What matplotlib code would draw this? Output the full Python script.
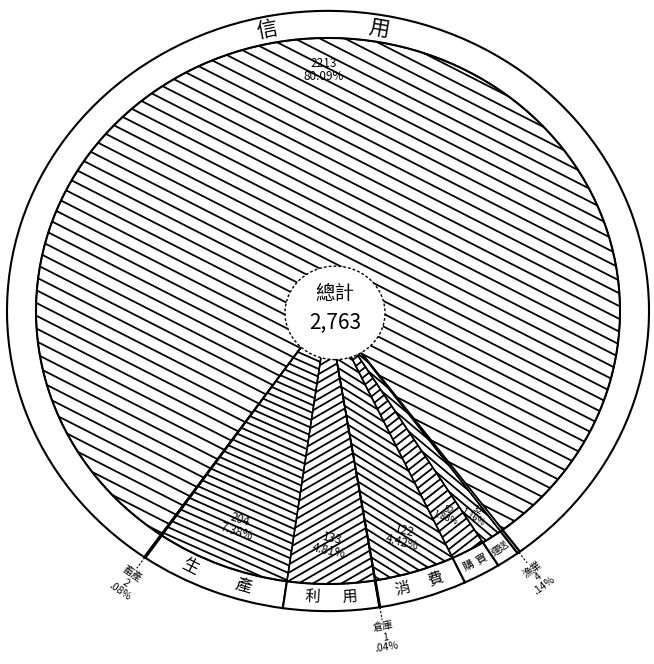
import matplotlib
matplotlib.use('Agg')
import matplotlib.pyplot as plt
import numpy as np
from matplotlib.patches import Circle
from matplotlib.collections import LineCollection

plt.rcParams['font.family'] = ['Noto Sans CJK TC', 'DejaVu Sans']

# ---- data ----
categories = ['畜產', '生產', '利用', '倉庫', '消費', '購買', '運送', '漁業', '信用']
values = [2, 204, 133, 1, 122, 52, 32, 4, 2213]
pct_labels = ['.08%', '7.38%', '4.81%', '.04%', '4.42%', '1.88%', '1.16%', '.14%', '80.09%']
center_title = '總計'
total_label = '2,763'

small_idx = [0, 3, 7]          # labelled outside the ring
ring_idx = [1, 2, 4, 5, 6, 8]  # labelled inside the ring

# ---- geometry / style ----
S = 0.935              # vertical squash of the scanned circle
R_PIE, R_OUT = 292, 321
START = 235.07

fig = plt.figure(figsize=(6.54, 6.64), dpi=100)
ax = fig.add_axes([0, 0, 1, 1])

n = len(values)
ring, _ = ax.pie(values, radius=R_OUT, startangle=START, counterclock=True,
                 colors=['white'] * n,
                 wedgeprops=dict(width=R_OUT - R_PIE, edgecolor='black', linewidth=1.5))
wedges, _ = ax.pie(values, radius=R_PIE, startangle=START, counterclock=True,
                   colors=['white'] * n,
                   wedgeprops=dict(edgecolor='black', linewidth=1.1))

ax.set_aspect('auto')
ax.set_xlim(-328, 326)
ax.set_ylim(-(664 - 311) / S, 311 / S)
ax.axis('off')

total = sum(values)
cum = np.concatenate([[0], np.cumsum(values)])
a0 = START + 360 * cum[:-1] / total
a1 = START + 360 * cum[1:] / total
mid = (a0 + a1) / 2

# ---- hatching (angle in degrees, spacing) ----
hatch = {8: (-27, 12.0), 1: (-24, 7.5), 2: (30, 7.5), 4: (-32, 7.5),
         5: (38, 7.0), 6: (-40, 7.0)}
for i, (ang, sp) in hatch.items():
    t = np.deg2rad(ang)
    d = np.array([np.cos(t), np.sin(t) / S])
    d /= np.linalg.norm(d)
    nrm = np.array([-d[1], d[0]])
    segs = []
    for k in np.arange(-70, 71):
        o = nrm * k * sp
        segs.append([o - 700 * d, o + 700 * d])
    lc = LineCollection(segs, colors='black', linewidths=1.3, zorder=2)
    lc.set_clip_path(wedges[i])
    ax.add_collection(lc)

for w in wedges:
    w.set_zorder(3)
    w.set_facecolor('none')

# ---- centre circle ----
ax.add_patch(Circle((7, -2), 50, facecolor='white', edgecolor='black',
                    linewidth=1.0, linestyle=(0, (2, 1.5)), zorder=6))
ax.text(7, 19, center_title, ha='center', va='center', fontsize=14, zorder=7)
ax.text(7, -13, total_label, ha='center', va='center', fontsize=15,
        fontweight='medium', zorder=7)

def pol(r, ang):
    t = np.deg2rad(ang)
    return r * np.cos(t), r * np.sin(t)

# ---- ring labels ----
R_MID = (R_PIE + R_OUT) / 2
ring_sizes = {1: 12, 2: 11, 4: 11, 5: 8, 6: 7, 8: 15}
for i in ring_idx:
    chars = list(categories[i])
    if i == 8:
        angs = [mid[i] + 10.5, mid[i] - 10.5]
    else:
        angs = [a0[i] + (a1[i] - a0[i]) * f for f in (0.3, 0.7)]
    for ch, ang in zip(chars, angs):
        x, y = pol(R_MID, ang)
        rot = ang - 90 if np.sin(np.deg2rad(ang)) > 0 else ang + 90
        ax.text(x, y, ch, ha='center', va='center', fontsize=ring_sizes[i],
                rotation=rot, zorder=7)

# ---- value labels inside wedges ----
val_r = {8: 258, 1: 247, 2: 250, 4: 253, 5: 248, 6: 262}
val_fs = {8: 8.5, 1: 8.5, 2: 8.5, 4: 8.5, 5: 6.5, 6: 6.5}
val_rot = {8: 0, 1: -18, 2: -12, 4: -14, 5: -20, 6: -30}
for i in ring_idx:
    x, y = pol(val_r[i], mid[i])
    ax.text(x, y, f"{values[i]}\n{pct_labels[i]}", ha='center', va='center',
            fontsize=val_fs[i], rotation=val_rot[i], linespacing=0.95, zorder=7)

# ---- small categories outside ----
for i in small_idx:
    xa, ya = pol(R_OUT, mid[i])
    xb, yb = pol(R_OUT + 14, mid[i])
    ax.plot([xa, xb], [ya, yb], color='black', lw=0.8, ls=(0, (2, 1.5)), zorder=7)
    x, y = pol(354, mid[i])
    ax.text(x, y, f"{categories[i]}\n{values[i]}\n{pct_labels[i]}", ha='center',
            va='center', fontsize=7.5, rotation=mid[i] + 90 - 360 * (mid[i] + 90 > 360),
            linespacing=1.0, zorder=7)

fig.savefig('out.png', dpi=100, facecolor='white')
